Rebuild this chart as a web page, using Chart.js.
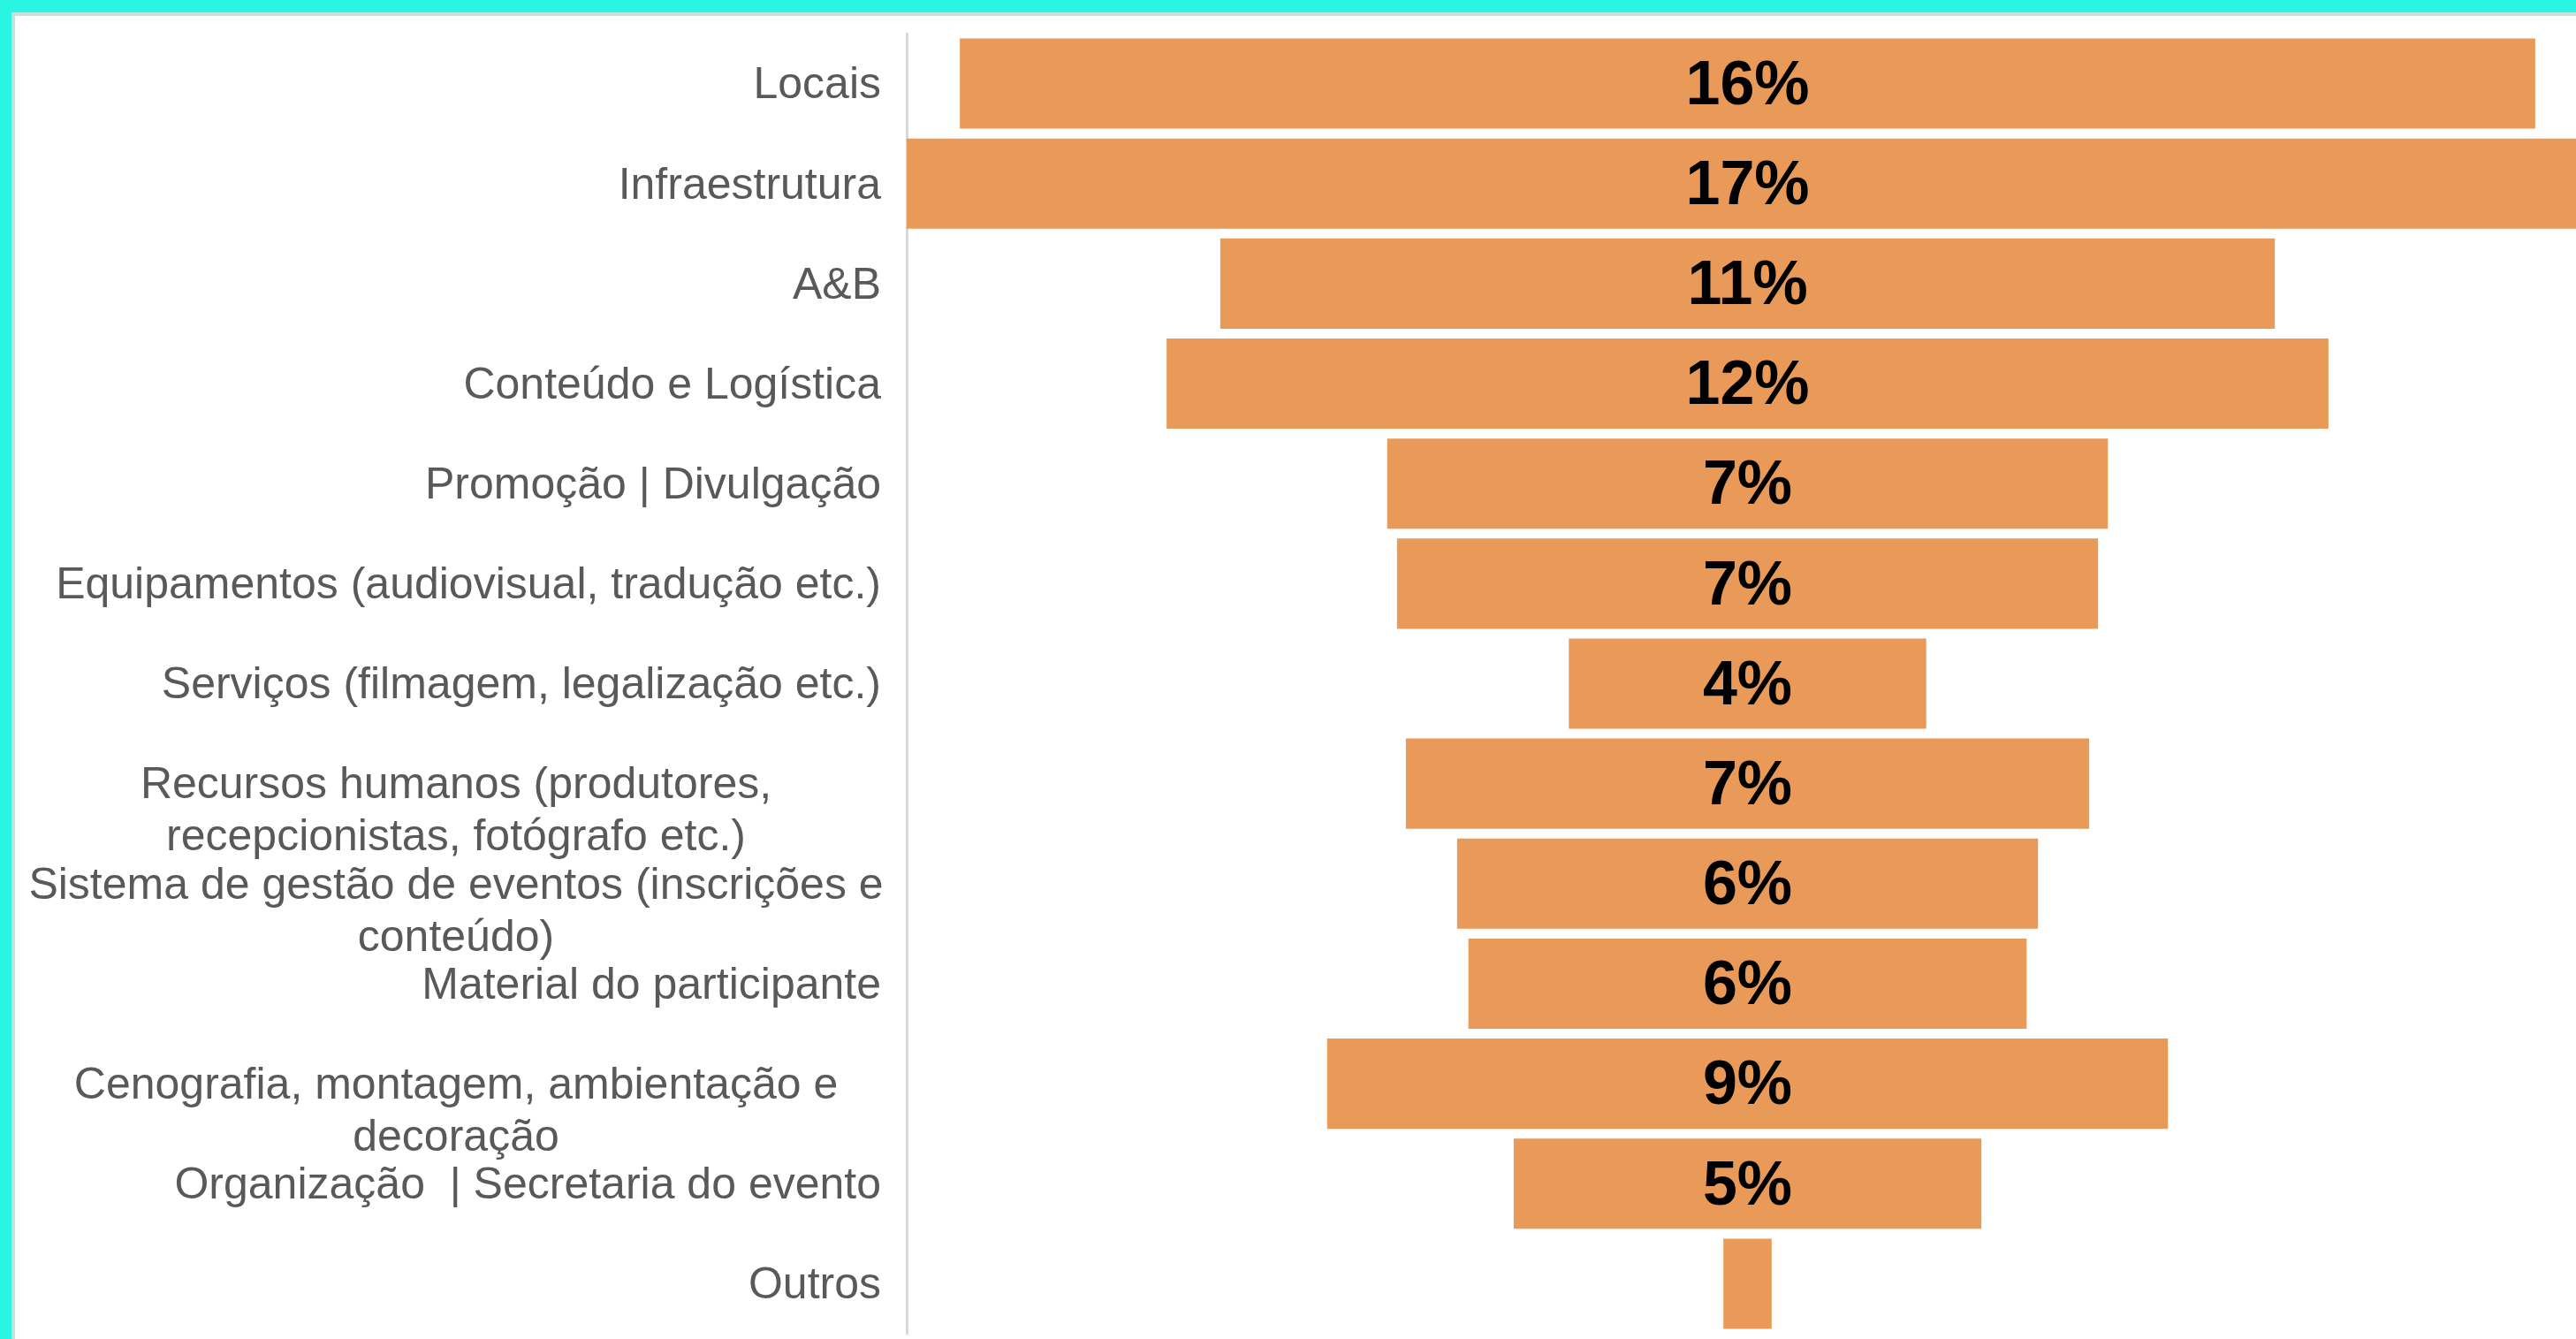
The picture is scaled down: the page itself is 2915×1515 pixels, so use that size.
<!DOCTYPE html>
<html>
<head>
<meta charset="utf-8">
<script src="https://cdn.jsdelivr.net/npm/chart.js@4.4.0/dist/chart.umd.min.js"></script>
<style>
  html, body { margin: 0; padding: 0; width: 2915px; height: 1515px; overflow: hidden; background: #fff; }
  .faixa { position: absolute; }
  #wrap { position: absolute; left: 17px; top: 18px; width: 2912px; height: 1497px; }
</style>
</head>
<body>
<div class="faixa" style="left:0;top:0;width:2915px;height:14px;background:#2af5e3"></div>
<div class="faixa" style="left:0;top:0;width:13px;height:1515px;background:#2af5e3"></div>
<div class="faixa" style="left:13px;top:14px;width:2902px;height:4px;background:#c7e0dd"></div>
<div class="faixa" style="left:13px;top:14px;width:4px;height:1501px;background:#c7e0dd"></div>
<div id="wrap"><canvas id="myChart" width="2912" height="1497"></canvas></div>
<script>
// Dados do gráfico
var categorias = [
  'Locais',
  'Infraestrutura',
  'A&B',
  'Conteúdo e Logística',
  'Promoção | Divulgação',
  'Equipamentos (audiovisual, tradução etc.)',
  'Serviços (filmagem, legalização etc.)',
  ['Recursos humanos (produtores,', 'recepcionistas, fotógrafo etc.)'],
  ['Sistema de gestão de eventos (inscrições e', 'conteúdo)'],
  'Material do participante',
  ['Cenografia, montagem, ambientação e', 'decoração'],
  'Organização  | Secretaria do evento',
  'Outros'
];
var valores = [16.0, 17.08, 10.71, 11.8, 7.32, 7.12, 3.63, 6.94, 5.9, 5.67, 8.54, 4.75, 0.49];
var rotulos = ['16%', '17%', '11%', '12%', '7%', '7%', '4%', '7%', '6%', '6%', '9%', '5%', ''];

var corBarra = '#e99a59';
var corTexto = '#595959';
var fonteEixo = '50px "Liberation Sans", Arial, sans-serif';
var fontePct = 'bold 70px "Liberation Sans", Arial, sans-serif';

// Barras centradas (funil): cada barra vai de -v/2 a +v/2
var barras = valores.map(function (v) { return [-v / 2, v / 2]; });
var metade = Math.max.apply(null, valores) / 2;

// Rótulos das categorias desenhados à mão (alinhamento como no Excel)
var rotulosEixo = {
  id: 'rotulosEixo',
  afterDraw: function (chart) {
    var ctx = chart.ctx;
    var y = chart.scales.y;
    ctx.save();
    ctx.font = fonteEixo;
    ctx.fillStyle = corTexto;
    ctx.textBaseline = 'middle';
    for (var i = 0; i < categorias.length; i++) {
      var py = y.getPixelForTick(i) + 3;
      var lab = categorias[i];
      if (Array.isArray(lab)) {
        ctx.textAlign = 'center';
        for (var k = 0; k < lab.length; k++) {
          ctx.fillText(lab[k], 499, py + k * 59);
        }
      } else {
        ctx.textAlign = 'right';
        ctx.fillText(lab, 980, py);
      }
    }
    ctx.restore();
  }
};

// Percentuais no meio de cada barra
var rotulosBarras = {
  id: 'rotulosBarras',
  afterDatasetsDraw: function (chart) {
    var ctx = chart.ctx;
    var meta = chart.getDatasetMeta(0);
    ctx.save();
    ctx.font = fontePct;
    ctx.fillStyle = '#000';
    ctx.textAlign = 'center';
    ctx.textBaseline = 'middle';
    meta.data.forEach(function (bar, i) {
      if (!rotulos[i]) return;
      ctx.fillText(rotulos[i], (bar.x + bar.base) / 2, bar.y + 4);
    });
    ctx.restore();
  }
};

var ctx = document.getElementById('myChart').getContext('2d');
var myChart = new Chart(ctx, {
  type: 'bar',
  data: {
    labels: categorias,
    datasets: [{
      data: barras,
      backgroundColor: corBarra,
      borderWidth: 0,
      barPercentage: 1,
      categoryPercentage: 0.902
    }]
  },
  options: {
    indexAxis: 'y',
    responsive: false,
    animation: false,
    devicePixelRatio: 1,
    layout: { padding: { top: 20, bottom: 6, left: 0, right: 0 } },
    plugins: { legend: { display: false }, tooltip: { enabled: false } },
    scales: {
      x: { display: false, min: -metade, max: metade },
      y: {
        grid: { display: false },
        border: { display: true, color: '#d9d9d9', width: 3 },
        ticks: { display: false },
        afterFit: function (scale) { scale.width = 1009; }
      }
    }
  },
  plugins: [rotulosEixo, rotulosBarras]
});
</script>
</body>
</html>
